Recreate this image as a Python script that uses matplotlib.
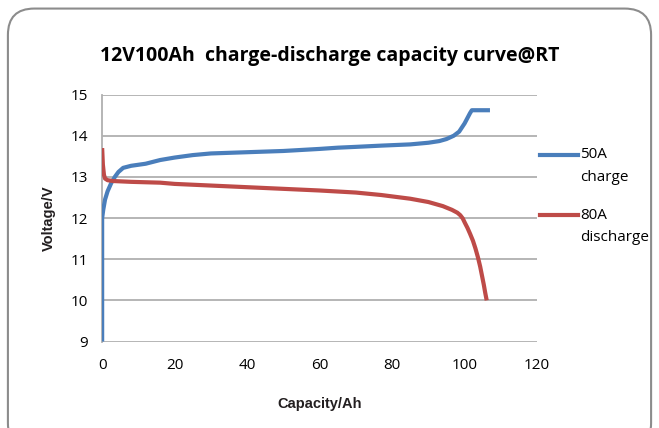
import matplotlib
matplotlib.use('Agg')
import matplotlib.pyplot as plt
from matplotlib.patches import FancyBboxPatch
from matplotlib.lines import Line2D

plt.rcParams['font.family'] = ['Open Sans', 'DejaVu Sans']

# 50A charge curve (capacity Ah, voltage V)
charge_ah = [0, 0, 0.3, 0.8, 1.5, 2.5, 3.5, 4.5, 5.8, 8, 12, 16, 20, 25, 30, 40,
             50, 60, 65, 70, 77, 85, 90, 93, 95, 97, 98.5, 100, 101.5, 102, 107]
charge_v = [9.0, 12.0, 12.2, 12.45, 12.65, 12.85, 13.0, 13.12, 13.22, 13.27,
            13.32, 13.41, 13.47, 13.53, 13.57, 13.6, 13.63, 13.68, 13.71, 13.73,
            13.76, 13.79, 13.83, 13.87, 13.92, 14.0, 14.1, 14.3, 14.55, 14.62, 14.62]

# 80A discharge curve
dis_ah = [0, 0.2, 0.5, 0.8, 1.5, 3, 8, 16, 20, 30, 40, 50, 60, 70, 77, 85, 90,
          94, 96.5, 98, 98.8, 99.5, 100.1, 100.8, 101.5, 102.3, 103, 103.7,
          104.3, 104.8, 105.3, 105.7, 106.1]
dis_v = [13.7, 13.3, 13.05, 12.96, 12.92, 12.9, 12.88, 12.86, 12.83, 12.79,
         12.75, 12.71, 12.67, 12.62, 12.56, 12.47, 12.39, 12.29, 12.2, 12.13,
         12.07, 11.99, 11.88, 11.76, 11.62, 11.45, 11.26, 11.04, 10.82, 10.6,
         10.38, 10.18, 10.0]

x_ticks = [0, 20, 40, 60, 80, 100, 120]
y_ticks = [9, 10, 11, 12, 13, 14, 15]

blue = '#4a7ebb'
red = '#be4b48'

fig = plt.figure(figsize=(6.59, 4.28), dpi=100)
ax = fig.add_axes([0.155, 0.202, 0.66, 0.577])

for y in y_ticks:
    ax.axhline(y, color='#b0b0b0', lw=1.3, zorder=1)
ax.plot(charge_ah, charge_v, color=blue, lw=3, zorder=3, solid_capstyle='butt',
        solid_joinstyle='round')
ax.plot(dis_ah, dis_v, color=red, lw=3, zorder=3, solid_capstyle='butt',
        solid_joinstyle='round')

ax.set_xlim(0, 120)
ax.set_ylim(9, 15)
ax.set_xticks(x_ticks)
ax.set_yticks(y_ticks)
ax.tick_params(length=0, labelsize=11, pad=12)
ax.tick_params(axis='y', pad=10)
for s in ['top', 'right', 'bottom']:
    ax.spines[s].set_visible(False)
ax.spines['left'].set_color('#b0b0b0')
ax.spines['left'].set_linewidth(1.3)

narrow = ['Liberation Sans Narrow', 'Liberation Sans', 'DejaVu Sans']
ax.set_xlabel('Capacity/Ah', fontsize=10.5, fontweight='bold', family=narrow,
              color='#231f20', labelpad=17)
ax.set_ylabel('Voltage/V', fontsize=10.5, fontweight='bold', family=narrow,
              color='#231f20', labelpad=11)

fig.text(0.5, 0.87, '12V100Ah  charge-discharge capacity curve@RT',
         ha='center', va='center', fontsize=14, fontweight='bold')

# legend
fig.add_artist(Line2D([0.820, 0.877], [0.638, 0.638], color=blue, lw=3))
fig.text(0.880, 0.638, '50A', va='center', fontsize=11)
fig.text(0.880, 0.585, 'charge', va='center', fontsize=11)
fig.add_artist(Line2D([0.820, 0.877], [0.497, 0.497], color=red, lw=3))
fig.text(0.880, 0.497, '80A', va='center', fontsize=11)
fig.text(0.880, 0.444, 'discharge', va='center', fontsize=11)

border = FancyBboxPatch((0.012, -0.05), 0.976, 1.03,
                        boxstyle='round,pad=0,rounding_size=0.04',
                        transform=fig.transFigure, fill=False,
                        edgecolor='#8c8c8c', lw=1.5, mutation_aspect=659 / 428)
fig.add_artist(border)

fig.savefig('out.png', dpi=100)
